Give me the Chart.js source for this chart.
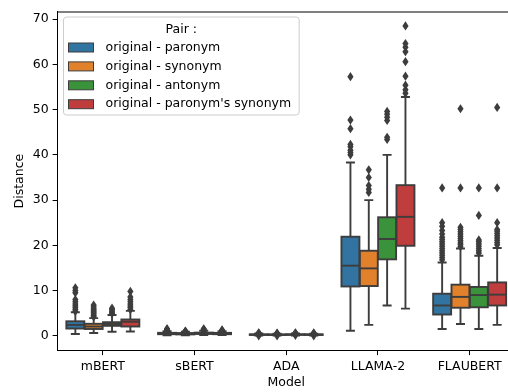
<!DOCTYPE html>
<html>
<head>
<meta charset="utf-8">
<script src="https://cdn.jsdelivr.net/npm/chart.js@4.4.1/dist/chart.umd.min.js"></script>
<style>
html,body{margin:0;padding:0;background:#fff;overflow:hidden;width:508px;height:392px;}
canvas{display:block;}
</style>
</head>
<body>
<canvas id="c" width="530" height="392"></canvas>
<script>
const categories = ['mBERT', 'sBERT', 'ADA', 'LLAMA-2', 'FLAUBERT'];
const pairs = ['original - paronym', 'original - synonym', 'original - antonym', "original - paronym's synonym"];
const yTicks = [0, 10, 20, 30, 40, 50, 60, 70];

// original - paronym
const paronymLo  = [0.4, 0.1, 0.05, 1.1, 1.5];
const paronymQ1  = [1.6, 0.35, 0.18, 10.9, 4.7];
const paronymMed = [2.4, 0.5, 0.25, 15.5, 6.7];
const paronymQ3  = [3.2, 0.65, 0.32, 21.9, 9.3];
const paronymHi  = [5.2, 1.0, 0.5, 38.3, 16.2];
const paronymOut = [
  [5.4, 5.8, 6.2, 6.6, 7.0, 7.5, 8.0, 9.5, 10.0, 10.6],
  [1.1, 1.2, 1.3, 1.45, 1.55],
  [0.0, 0.6, 0.65],
  [40.0, 40.5, 41.0, 41.8, 42.3, 45.8, 47.7, 57.3],
  [16.8, 17.3, 17.8, 18.3, 18.8, 19.3, 19.8, 20.3, 20.8, 21.3, 21.8, 22.5, 23.3, 24.2, 25.0, 32.7]
];

// original - synonym
const synonymLo  = [0.6, 0.1, 0.05, 2.4, 2.6];
const synonymQ1  = [1.5, 0.3, 0.17, 11.0, 6.2];
const synonymMed = [2.05, 0.45, 0.24, 14.9, 8.6];
const synonymQ3  = [2.65, 0.6, 0.3, 18.8, 11.3];
const synonymHi  = [3.9, 0.9, 0.45, 30.0, 19.3];
const synonymOut = [
  [4.2, 4.5, 4.8, 5.1, 5.4, 5.7, 6.0, 6.4, 6.8],
  [0.95, 1.0, 1.05],
  [0.0, 0.55, 0.6],
  [31.7, 32.4, 33.2, 35.0, 36.7],
  [19.7, 20.1, 20.5, 21.0, 21.5, 22.0, 22.5, 23.0, 23.5, 24.0, 32.7, 50.2]
];

// original - antonym
const antonymLo  = [0.9, 0.15, 0.05, 6.7, 1.5];
const antonymQ1  = [2.2, 0.4, 0.2, 16.9, 6.3];
const antonymMed = [2.6, 0.55, 0.26, 21.4, 9.0];
const antonymQ3  = [3.0, 0.7, 0.33, 26.2, 10.8];
const antonymHi  = [4.6, 1.1, 0.5, 40.0, 17.7];
const antonymOut = [
  [4.9, 5.2, 5.5, 5.8, 6.1],
  [1.2, 1.3, 1.4, 1.55],
  [0.1, 0.6, 0.65],
  [43.4, 43.9, 47.6, 48.3, 49.0, 49.6],
  [18.3, 18.8, 19.3, 19.8, 20.3, 20.8, 21.2, 26.6, 32.7]
];

// original - paronym's synonym
const parSynLo  = [0.95, 0.15, 0.05, 6.0, 2.4];
const parSynQ1  = [2.05, 0.35, 0.18, 19.9, 6.7];
const parSynMed = [3.1, 0.5, 0.25, 26.3, 9.1];
const parSynQ3  = [3.6, 0.65, 0.32, 33.3, 11.8];
const parSynHi  = [5.5, 1.0, 0.48, 52.8, 19.4];
const parSynOut = [
  [5.8, 6.2, 6.6, 7.0, 7.5, 8.0, 8.6, 9.8],
  [1.1, 1.2, 1.3],
  [0.0, 0.55, 0.65],
  [53.6, 54.4, 55.4, 57.4, 60.6, 62.8, 63.8, 64.6, 68.5],
  [20.1, 20.6, 21.1, 21.6, 22.1, 22.6, 23.1, 23.5, 25.0, 32.7, 50.5]
];

const colors = ['#3274a1', '#e1812c', '#3a923a', '#c03d3e'];
const lineGray = '#3d3d3d';
const FONT = 'DejaVu Sans';
const FS = 12.5;

const seriesStats = [
  {lo: paronymLo, q1: paronymQ1, med: paronymMed, q3: paronymQ3, hi: paronymHi, out: paronymOut},
  {lo: synonymLo, q1: synonymQ1, med: synonymMed, q3: synonymQ3, hi: synonymHi, out: synonymOut},
  {lo: antonymLo, q1: antonymQ1, med: antonymMed, q3: antonymQ3, hi: antonymHi, out: antonymOut},
  {lo: parSynLo, q1: parSynQ1, med: parSynMed, q3: parSynQ3, hi: parSynHi, out: parSynOut}
];

const datasets = pairs.map((p, d) => ({
  label: p,
  data: categories.map((c, i) => [seriesStats[d].q1[i], seriesStats[d].q3[i]]),
  backgroundColor: colors[d],
  borderWidth: 0,
  categoryPercentage: 0.8,
  barPercentage: 0.98
}));

const boxPlugin = {
  id: 'boxParts',
  afterDatasetsDraw(chart) {
    const ctx = chart.ctx;
    const ys = chart.scales.y;
    ctx.save();
    ctx.strokeStyle = lineGray;
    ctx.fillStyle = lineGray;
    ctx.lineWidth = 1.9;
    ctx.lineCap = 'butt';
    seriesStats.forEach((s, d) => {
      const meta = chart.getDatasetMeta(d);
      meta.data.forEach((el, i) => {
        const x = el.x, w = el.width;
        const yq1 = ys.getPixelForValue(s.q1[i]);
        const yq3 = ys.getPixelForValue(s.q3[i]);
        const ymed = ys.getPixelForValue(s.med[i]);
        const ylo = ys.getPixelForValue(s.lo[i]);
        const yhi = ys.getPixelForValue(s.hi[i]);
        // whiskers
        ctx.beginPath();
        ctx.moveTo(x, yq1); ctx.lineTo(x, ylo);
        ctx.moveTo(x, yq3); ctx.lineTo(x, yhi);
        ctx.moveTo(x - w / 4, ylo); ctx.lineTo(x + w / 4, ylo);
        ctx.moveTo(x - w / 4, yhi); ctx.lineTo(x + w / 4, yhi);
        ctx.stroke();
        // box outline
        ctx.strokeRect(x - w / 2, yq3, w, yq1 - yq3);
        // median
        ctx.beginPath();
        ctx.moveTo(x - w / 2, ymed); ctx.lineTo(x + w / 2, ymed);
        ctx.stroke();
        // fliers (thin diamonds)
        s.out[i].forEach(v => {
          const yy = ys.getPixelForValue(v);
          ctx.beginPath();
          ctx.moveTo(x, yy - 4.6);
          ctx.lineTo(x + 3.1, yy);
          ctx.lineTo(x, yy + 4.6);
          ctx.lineTo(x - 3.1, yy);
          ctx.closePath();
          ctx.fill();
        });
      });
    });
    ctx.restore();
  },
  afterDraw(chart) {
    const ctx = chart.ctx;
    const a = chart.chartArea;
    ctx.save();
    // top and right spines
    ctx.strokeStyle = '#000';
    ctx.lineWidth = 1;
    ctx.beginPath();
    ctx.moveTo(a.left, a.top + 0.5); ctx.lineTo(a.right, a.top + 0.5);
    ctx.lineTo(a.right, a.bottom);
    ctx.stroke();
    // legend
    ctx.font = FS + 'px "' + FONT + '"';
    let maxW = 0;
    pairs.forEach(p => { maxW = Math.max(maxW, ctx.measureText(p).width); });
    const lx = a.left + 6.5, ly = a.top + 5.5;
    const textX = lx + 42;
    const lw = textX + maxW + 8 - lx;
    const lh = 98;
    ctx.beginPath();
    ctx.roundRect(lx, ly, lw, lh, 3);
    ctx.fillStyle = 'rgba(255,255,255,0.8)';
    ctx.fill();
    ctx.strokeStyle = '#cccccc';
    ctx.lineWidth = 1;
    ctx.stroke();
    ctx.fillStyle = '#000';
    ctx.textBaseline = 'middle';
    ctx.textAlign = 'center';
    ctx.fillText('Pair :', lx + lw / 2, ly + 12.5);
    ctx.textAlign = 'left';
    pairs.forEach((p, d) => {
      const cy = ly + 30.5 + d * 18.9;
      ctx.fillStyle = colors[d];
      ctx.fillRect(lx + 5, cy - 4.5, 25, 9);
      ctx.strokeStyle = lineGray;
      ctx.lineWidth = 1;
      ctx.strokeRect(lx + 5, cy - 4.5, 25, 9);
      ctx.fillStyle = '#000';
      ctx.fillText(p, textX, cy);
    });
    ctx.restore();
  }
};

new Chart(document.getElementById('c'), {
  type: 'bar',
  data: { labels: categories, datasets: datasets },
  plugins: [boxPlugin],
  options: {
    responsive: false,
    animation: false,
    devicePixelRatio: 1,
    layout: { padding: { top: 10.5, right: 14.5, left: 0, bottom: 0 } },
    plugins: { legend: { display: false }, tooltip: { enabled: false } },
    scales: {
      x: {
        type: 'category',
        offset: true,
        afterFit(scale) { scale.height = 41.3; },
        grid: { offset: false, drawOnChartArea: false, drawTicks: true, tickLength: 4.4, tickColor: '#000', tickWidth: 1 },
        border: { display: true, color: '#000', width: 1 },
        ticks: { color: '#000', font: { family: FONT, size: FS }, padding: 4.5, maxRotation: 0 },
        title: { display: true, text: 'Model', color: '#000', font: { family: FONT, size: FS }, padding: { top: 0, bottom: 1.5 } }
      },
      y: {
        type: 'linear',
        min: -3.3,
        max: 71.7,
        afterFit(scale) { scale.width = 57; },
        afterBuildTicks(scale) { scale.ticks = yTicks.map(v => ({ value: v })); },
        grid: { drawOnChartArea: false, drawTicks: true, tickLength: 4.4, tickColor: '#000', tickWidth: 1 },
        border: { display: true, color: '#000', width: 1 },
        ticks: { color: '#000', font: { family: FONT, size: FS }, padding: 4 },
        title: { display: true, text: 'Distance', color: '#000', font: { family: FONT, size: FS }, padding: { top: 12.5, bottom: 0 } }
      }
    }
  }
});
</script>
</body>
</html>
